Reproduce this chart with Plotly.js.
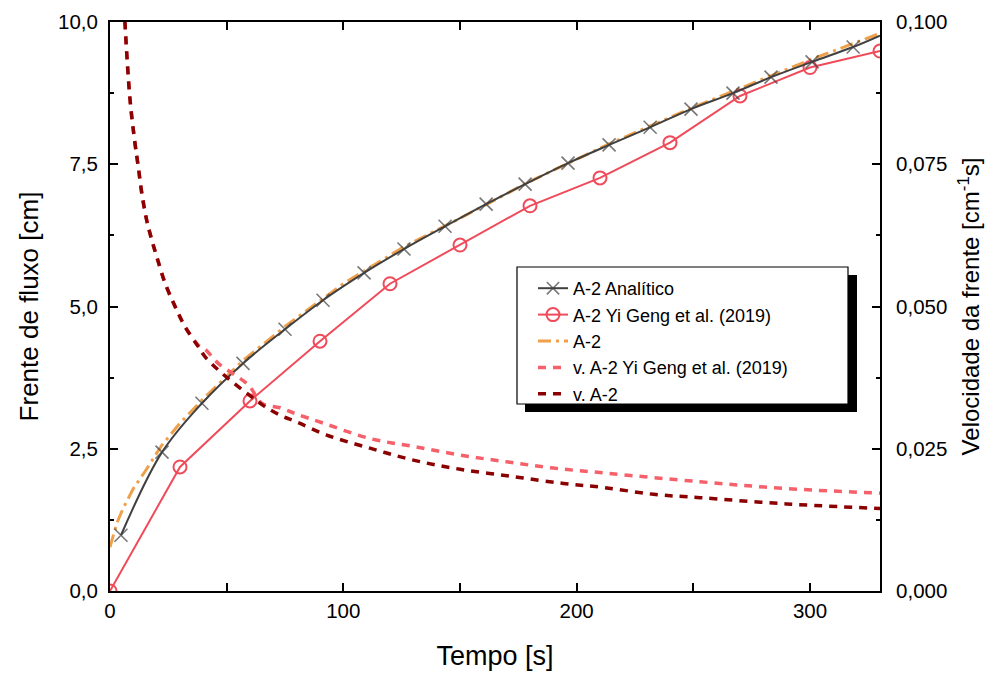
<!DOCTYPE html>
<html>
<head>
<meta charset="utf-8">
<script src="https://cdn.plot.ly/plotly-3.0.1.min.js"></script>
<style>html,body{margin:0;padding:0;background:#fff;}#chart{width:997px;height:677px;}</style>
</head>
<body>
<div id="chart"></div>
<script>
// Analytic solution (markers)
const tAnalitico = [4.7, 22.3, 39.4, 57, 75, 91.3, 108.9, 126, 143.6, 161.2, 177.9, 196.3, 213.9, 231.5, 249, 267, 283.3, 300.9, 318.5, 330];
const xAnalitico = [0.98, 2.44, 3.30, 4.0, 4.6, 5.11, 5.59, 6.01, 6.41, 6.80, 7.15, 7.52, 7.84, 8.15, 8.47, 8.75, 9.03, 9.30, 9.56, 9.76];

// Yi Geng et al. (2019)
const tGeng = [0, 30, 60, 90, 120, 150, 180, 210, 240, 270, 300, 330];
const xGeng = [0.0, 2.18, 3.34, 4.39, 5.40, 6.08, 6.77, 7.26, 7.88, 8.70, 9.20, 9.49];

// A-2 simulation
const tA2 = [0, 3, 5.6, 10, 15, 22, 30, 40, 57, 75, 100, 126, 150, 180, 214, 250, 283, 301, 330];
const xA2 = [0.77, 1.2, 1.45, 1.8, 2.1, 2.55, 2.95, 3.38, 4.05, 4.65, 5.40, 6.05, 6.55, 7.2, 7.86, 8.5, 9.05, 9.35, 9.8];

// Velocities
const tVGeng = [5.5, 6.4, 8.6, 10.7, 12.1, 13.6, 15.7, 17.9, 20, 23.6, 27.9, 32.1, 37.9, 40.7, 46.4, 59.3, 65, 72.9, 79.3, 91.4, 111.4, 130, 150, 170, 190, 212.9, 252.9, 290, 330];
const vGeng = [0.108, 0.100, 0.0863, 0.0787, 0.0746, 0.0700, 0.0652, 0.0617, 0.0588, 0.0541, 0.0500, 0.0465, 0.0432, 0.0425, 0.0400, 0.0362, 0.0330, 0.0322, 0.0312, 0.0295, 0.0268, 0.0254, 0.0239, 0.0227, 0.0216, 0.0207, 0.0192, 0.0180, 0.0172];

const tVA2 = [5.5, 6.4, 8.6, 10.7, 12.1, 13.6, 15.7, 17.9, 20, 23.6, 27.9, 32.1, 37.9, 40.7, 47.9, 60.7, 66.4, 72.9, 80, 92.9, 111.4, 130, 150, 172.9, 194.3, 211.4, 232.9, 252.9, 290, 330];
const vA2 = [0.108, 0.100, 0.0863, 0.0787, 0.0746, 0.0700, 0.0652, 0.0617, 0.0588, 0.0541, 0.0500, 0.0465, 0.0429, 0.0412, 0.0383, 0.0341, 0.0324, 0.0309, 0.0297, 0.0274, 0.0251, 0.0230, 0.0214, 0.0201, 0.0189, 0.0182, 0.0170, 0.0164, 0.0153, 0.0145];

const FONT = 'Liberation Sans, Arial, sans-serif';

const markerSizes = tAnalitico.map((_, i) => i === tAnalitico.length - 1 ? 0 : 13);

const traces = [
  {
    x: tVGeng, y: vGeng, name: 'v. A-2 Yi Geng et al. (2019)', type: 'scatter', mode: 'lines', yaxis: 'y2',
    line: {color: '#F5606A', width: 3.5, dash: '8px,7px', shape: 'spline'},
    legendrank: 4
  },
  {
    x: tVA2, y: vA2, name: 'v. A-2', type: 'scatter', mode: 'lines', yaxis: 'y2',
    line: {color: '#8B0000', width: 3.5, dash: '8px,7px', shape: 'spline'},
    legendrank: 5
  },
  {
    x: tA2, y: xA2, name: 'A-2', type: 'scatter', mode: 'lines',
    line: {color: '#EFA04A', width: 3, dash: '13px,5px,3px,5px'},
    legendrank: 3
  },
  {
    x: tGeng, y: xGeng, name: 'A-2 Yi Geng et al. (2019)', type: 'scatter', mode: 'lines+markers',
    line: {color: '#F04B5A', width: 2},
    marker: {symbol: 'circle-open', size: 13, color: '#F04B5A', line: {width: 2, color: '#F04B5A'}},
    legendrank: 2
  },
  {
    x: tAnalitico, y: xAnalitico, name: 'A-2 Analítico', type: 'scatter', mode: 'lines+markers',
    line: {color: '#404040', width: 2, shape: 'spline'},
    marker: {symbol: 'x-thin', size: markerSizes, color: '#404040', line: {width: 1.6, color: '#404040'}},
    legendrank: 1
  }
];

const axisCommon = {
  showgrid: false, zeroline: false, showline: true, linecolor: '#000', linewidth: 2,
  ticks: 'inside', ticklen: 8, tickwidth: 2, tickcolor: '#000',
  tickfont: {family: FONT, size: 20.5, color: '#000'}
};

// legend box geometry (paper fractions of the plot area 110..880 x, 22..591 y)
const px = v => (v - 110) / 770;
const py = v => (591 - v) / 569;

const layout = {
  width: 997, height: 677,
  margin: {l: 110, r: 117, t: 22, b: 86, pad: 0},
  paper_bgcolor: '#fff', plot_bgcolor: '#fff',
  separators: ',.',
  showlegend: true,
  font: {family: FONT, color: '#000'},
  xaxis: Object.assign({}, axisCommon, {
    range: [0, 330], dtick: 100, tick0: 0, mirror: 'allticks',
    minor: {dtick: 50, ticks: 'inside', ticklen: 4, tickwidth: 2, tickcolor: '#000'},
    title: {text: 'Tempo [s]', font: {family: FONT, size: 27, color: '#000'}, standoff: 26}
  }),
  yaxis: Object.assign({}, axisCommon, {
    range: [0, 10], dtick: 2.5, tick0: 0, tickformat: '.1f',
    minor: {dtick: 1.25, ticks: 'inside', ticklen: 4, tickwidth: 2, tickcolor: '#000'},
    ticklabelstandoff: 6,
    title: {text: 'Frente de fluxo [cm]', font: {family: FONT, size: 26, color: '#000'}, standoff: 12}
  }),
  yaxis2: Object.assign({}, axisCommon, {
    overlaying: 'y', side: 'right', anchor: 'x',
    range: [0, 0.1], dtick: 0.025, tick0: 0, tickformat: '.3f',
    minor: {dtick: 0.0125, ticks: 'inside', ticklen: 4, tickwidth: 2, tickcolor: '#000'},
    ticklabelstandoff: 10,
    title: {text: 'Velocidade da frente [cm<sup>-1</sup>s]', font: {family: FONT, size: 24, color: '#000'}, standoff: 16}
  }),
  legend: {
    x: px(533), y: py(270), xanchor: 'left', yanchor: 'top',
    bgcolor: 'rgba(0,0,0,0)', borderwidth: 0,
    font: {family: FONT, size: 18, color: '#000'},
    traceorder: 'normal'
  },
  shapes: [
    {type: 'rect', xref: 'paper', yref: 'paper', x0: px(525), x1: px(857), y0: py(412), y1: py(275),
     fillcolor: '#000', line: {width: 0}, layer: 'above'},
    {type: 'rect', xref: 'paper', yref: 'paper', x0: px(517), x1: px(848), y0: py(404), y1: py(267),
     fillcolor: '#fff', line: {width: 1.2, color: '#000'}, layer: 'above'}
  ]
};

Plotly.newPlot('chart', traces, layout, {displayModeBar: false, staticPlot: true});
</script>
</body>
</html>
